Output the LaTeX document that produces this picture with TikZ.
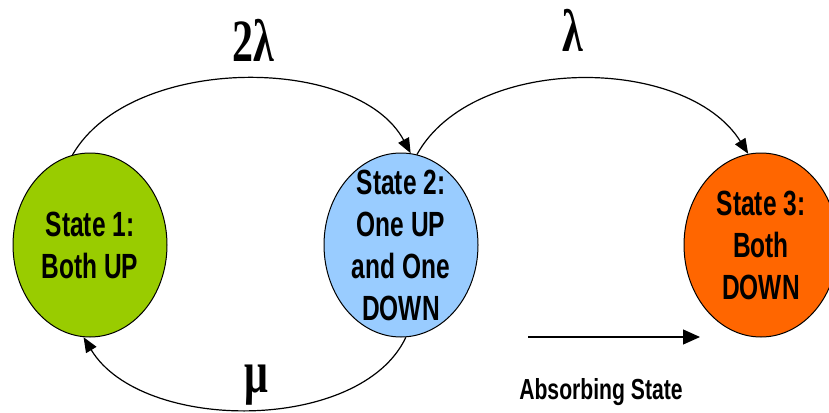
\documentclass[tikz,border=0pt]{standalone}
\usepackage{fontspec}
\usetikzlibrary{shapes.geometric,arrows.meta}
\newfontfamily\statefont[FakeStretch=0.7]{Liberation Sans}
\newfontfamily\absfont[FakeStretch=0.73]{Liberation Sans}
\newfontfamily\ratefont[FakeStretch=0.7]{Liberation Serif}
\definecolor{stgreen}{HTML}{99CC00}
\definecolor{stblue}{HTML}{99CCFF}
\definecolor{storange}{HTML}{FF6600}
\begin{document}
\begin{tikzpicture}[x=1pt,y=-1pt,
  stateell/.style={ellipse,draw=black,line width=1pt,minimum width=154pt,minimum height=184pt,inner sep=0pt},
  statetext/.style={align=center,inner sep=0pt,font=\statefont\bfseries\fontsize{35}{42}\selectfont},
  ratelabel/.style={inner sep=0pt,font=\ratefont\bfseries\fontsize{60}{60}\selectfont},
  conn/.style={line width=1.2pt,-{Triangle[length=15pt,width=12pt]}}]
\useasboundingbox (0,0) rectangle (829,412);
\node[stateell,fill=stgreen] (s1) at (90,245) {};
\node[stateell,fill=stblue] (s2) at (401,245) {};
\node[stateell,fill=storange] (s3) at (761,245) {};
\node[statetext] (t1) at (s1) {State 1:\\Both UP};
\node[statetext] (t2) at (s2) {State 2:\\One UP\\and One\\DOWN};
\node[statetext] (t3) at (s3) {State 3:\\Both\\DOWN};
\draw[conn] (s1.101) .. controls +(58,-101) and +(-53,-99) .. (s2.84);
\draw[conn] (s2.80) .. controls +(56,-101) and +(-62,-99) .. (s3.98);
\draw[conn] (s2.-87) .. controls +(-45,96) and +(58,96) .. (s1.-94);
\node[ratelabel,anchor=base] (l1) at (253,62) {2λ};
\node[ratelabel,anchor=base] (l2) at (573,52) {λ};
\node[ratelabel] (l3) at (256,385) {μ};
\coordinate (absA) at (528,337);
\coordinate (absB) at (700,337);
\draw[line width=1.2pt,-{Triangle[length=17pt,width=15pt]}] (absA) -- (absB);
\node[inner sep=0pt,font=\absfont\bfseries\fontsize{29}{30}\selectfont] (abs) at (601,392) {Absorbing State};
\end{tikzpicture}
\end{document}
